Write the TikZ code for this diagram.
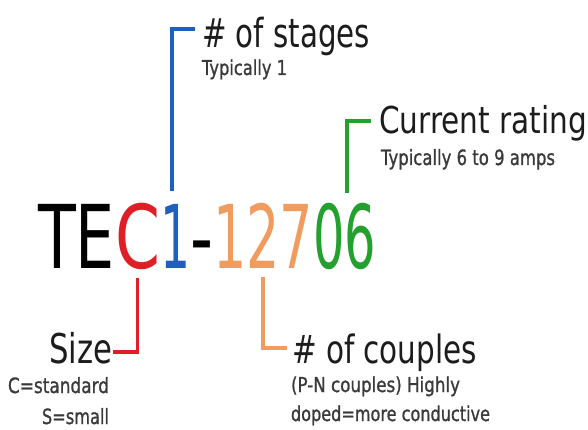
\documentclass[tikz,border=0pt]{standalone}
\usepackage{fontspec}
\usepackage{graphicx}
\setmainfont{DejaVu Sans}
% slightly heavier face for the small explanatory lines
\newfontfamily\notefont{DejaVu Sans}[FakeBold=1.2]

\definecolor{cred}{HTML}{DE2026}
\definecolor{cblue}{HTML}{1F5FBD}
\definecolor{corange}{HTML}{F09C5E}
\definecolor{cgreen}{HTML}{23A02D}
\definecolor{head}{HTML}{1C1C1C}
\definecolor{sub}{HTML}{3A3A3A}

% squeeze text horizontally to a given width, keeping its height
\newcommand\sqz[2]{\resizebox{#1}{\height}{#2}}

\tikzset{
  part/.style={inner sep=0pt, outer sep=0pt, anchor=base west,
    font=\fontsize{88}{100}\selectfont},
  heading/.style={inner sep=0pt, outer sep=0pt, text=head,
    font=\fontsize{40}{48}\selectfont},
  note/.style={inner sep=0pt, outer sep=0pt, text=sub,
    font=\notefont\fontsize{20.5}{24}\selectfont},
  bracket/.style={line width=3.6pt}
}

\begin{document}
\begin{tikzpicture}[x=1pt, y=-1pt]
\useasboundingbox (0,0) rectangle (588,430);

% part number, one node per coloured group
\node[part, text=black] (te) at (38,268) {\sqz{77pt}{TE}};
\node[part, text=cred] (c) at (te.base east) {\sqz{45pt}{C}};
\node[part, text=cblue] (one) at (c.base east) {\sqz{30pt}{1}};
\node[part, text=black] (dash) at (one.base east) {\sqz{23pt}{-}};
\node[part, text=corange] (ott) at (dash.base east) {\sqz{100pt}{127}};
\node[part, text=cgreen] (zs) at (ott.base east) {\sqz{63pt}{06}};

% labels above
\node[heading, anchor=base west] (stages) at (202,48) {\sqz{168pt}{\# of stages}};
\node[note, anchor=base west] (stagesnote) at (202,75) {\sqz{85pt}{Typically 1}};
\node[heading, anchor=base west, font=\fontsize{37}{44}\selectfont] (rating) at (379,134) {\sqz{208pt}{Current rating}};
\node[note, anchor=base west, font=\notefont\fontsize{21}{25}\selectfont] (ratingnote) at (381,165) {\sqz{174pt}{Typically 6 to 9 amps}};

% labels below
\node[heading, anchor=base west, font=\fontsize{41}{48}\selectfont] (size) at (49,363) {\sqz{63pt}{Size}};
\node[note, anchor=base east, font=\notefont\fontsize{21}{25}\selectfont] (cstd) at (109,393) {\sqz{101pt}{C=standard}};
\node[note, anchor=base east, font=\notefont\fontsize{21}{25}\selectfont] (ssmall) at (109,424) {\sqz{67pt}{S=small}};
\node[heading, anchor=base west, font=\fontsize{39}{46}\selectfont] (couples) at (292,363) {\sqz{185pt}{\# of couples}};
\node[note, anchor=base west] (pn) at (291,392) {\sqz{169pt}{(P-N couples) Highly}};
\node[note, anchor=base west] (doped) at (291,421) {\sqz{199pt}{doped=more conductive}};

% bracket arms
\coordinate (stagesArm) at (195,29);
\coordinate (ratingArm) at (371,121);
\coordinate (sizeArm) at (113,352);
\coordinate (couplesArm) at (287,348);

\draw[bracket, cblue, shorten >=13pt] (stagesArm) -| ([xshift=-3pt]one.north);
\draw[bracket, cgreen, shorten >=10pt] (ratingArm) -| ([xshift=2.5pt]zs.north);
\draw[bracket, cred, shorten <=9pt] (c.south) |- (sizeArm);
\draw[bracket, corange, shorten <=9pt] (ott.south) |- (couplesArm);
\end{tikzpicture}
\end{document}
